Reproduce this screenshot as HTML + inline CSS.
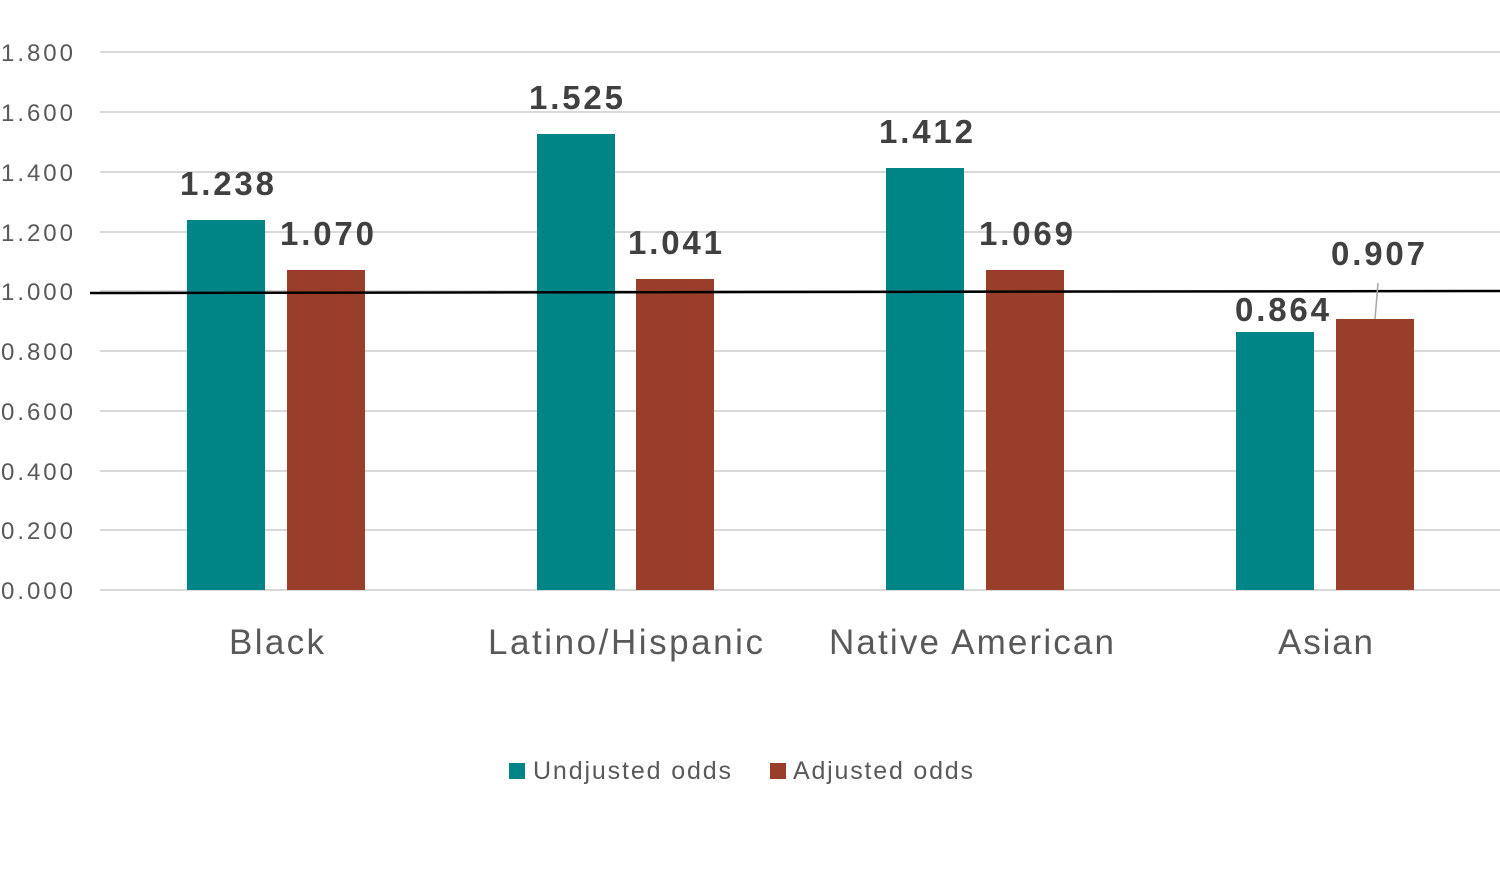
<!DOCTYPE html>
<html><head><meta charset="utf-8"><style>body{margin:0;background:#fff}svg{display:block}</style></head>
<body>
<svg width="1500" height="870" xmlns="http://www.w3.org/2000/svg" font-family="Liberation Sans, sans-serif">
<g stroke="#d9d9d9" stroke-width="2">
<line x1="100" x2="1500" y1="590" y2="590"/><line x1="100" x2="1500" y1="530" y2="530"/>
<line x1="100" x2="1500" y1="471" y2="471"/><line x1="100" x2="1500" y1="411" y2="411"/>
<line x1="100" x2="1500" y1="351" y2="351"/><line x1="100" x2="1500" y1="291" y2="291"/>
<line x1="100" x2="1500" y1="232" y2="232"/><line x1="100" x2="1500" y1="172" y2="172"/>
<line x1="100" x2="1500" y1="112" y2="112"/><line x1="100" x2="1500" y1="52" y2="52"/>
</g>
<g fill="#595959" font-size="24" lengthAdjust="spacingAndGlyphs">
<text x="1" y="599" textLength="72">0.000</text><text x="1" y="539" textLength="72">0.200</text><text x="1" y="480" textLength="72">0.400</text>
<text x="1" y="420" textLength="72">0.600</text><text x="1" y="360" textLength="72">0.800</text><text x="1" y="300" textLength="72">1.000</text>
<text x="1" y="241" textLength="72">1.200</text><text x="1" y="181" textLength="72">1.400</text><text x="1" y="121" textLength="72">1.600</text>
<text x="1" y="61" textLength="72">1.800</text>
</g>
<g fill="#008587">
<rect x="187" y="220" width="78" height="370"/><rect x="537" y="134" width="78" height="456"/>
<rect x="886" y="168" width="78" height="422"/><rect x="1236" y="332" width="78" height="258"/>
</g>
<g fill="#9a3e2c">
<rect x="287" y="270" width="78" height="320"/><rect x="636" y="279" width="78" height="311"/>
<rect x="986" y="270" width="78" height="320"/><rect x="1336" y="319" width="78" height="271"/>
</g>
<line x1="90" y1="293" x2="1500" y2="291" stroke="#000" stroke-width="2.5"/>
<line x1="1378" y1="283" x2="1375" y2="319" stroke="#a6a6a6" stroke-width="1.5"/>
<g fill="#404040" font-size="33" font-weight="bold">
<text x="180" y="195" textLength="94">1.238</text><text x="280" y="245" textLength="94">1.070</text>
<text x="529" y="109" textLength="94">1.525</text><text x="628" y="254" textLength="94">1.041</text>
<text x="879" y="143" textLength="94">1.412</text><text x="979" y="245" textLength="94">1.069</text>
<text x="1235" y="321" textLength="94">0.864</text><text x="1331" y="265" textLength="94">0.907</text>
</g>
<g fill="#595959" font-size="35">
<text x="229" y="654" textLength="95">Black</text><text x="488" y="654" textLength="275">Latino/Hispanic</text>
<text x="829" y="654" textLength="285">Native American</text><text x="1278" y="654" textLength="95">Asian</text>
</g>
<rect x="509" y="763" width="16" height="16" fill="#008587"/>
<text x="533" y="779" fill="#595959" font-size="25" textLength="198">Undjusted odds</text>
<rect x="770" y="763" width="16" height="16" fill="#9a3e2c"/>
<text x="793" y="779" fill="#595959" font-size="25" textLength="180">Adjusted odds</text>
</svg>
</body></html>
